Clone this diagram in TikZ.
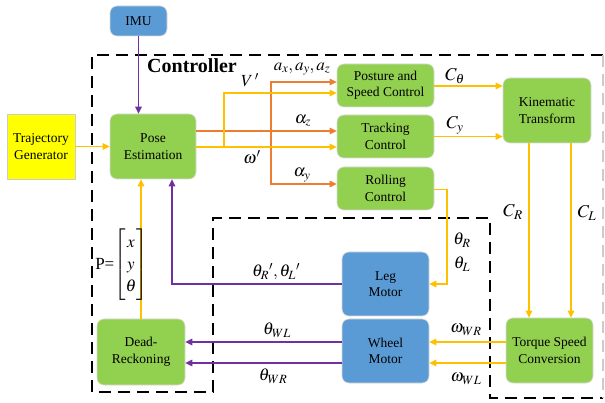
\documentclass[tikz,border=0pt]{standalone}
\usepackage{amsmath}
\usepackage{mathptmx}
\usepackage{fontspec}
\setmainfont{Liberation Serif}
\usetikzlibrary{arrows.meta,calc}
\definecolor{cyel}{HTML}{FFC000}
\definecolor{corg}{HTML}{ED7D31}
\definecolor{cpur}{HTML}{7030A0}
\definecolor{cgrn}{HTML}{92D050}
\definecolor{cblu}{HTML}{5B9BD5}
\definecolor{cybox}{HTML}{FFFF00}
\tikzset{
  box/.style={rounded corners=7pt, draw=black!15, line width=0.6pt, align=center,
    font=\fontsize{13.5}{16.5}\selectfont, inner sep=0pt},
  gbox/.style={box, fill=cgrn},
  bbox/.style={box, fill=cblu},
  tip/.style={-{Triangle[length=7pt,width=6.5pt]}},
  yarr/.style={draw=cyel, line width=1.4pt, tip},
  oarr/.style={draw=corg, line width=1.4pt, tip},
  parr/.style={draw=cpur, line width=1.4pt, tip},
  lbl/.style={font=\fontsize{17}{20}\selectfont, inner sep=0pt},
  clbl/.style={font=\fontsize{18}{21}\selectfont, inner sep=0pt},
  dashbox/.style={draw=black, line width=1.8pt, dash pattern=on 12pt off 7pt},
}
\begin{document}
\begin{tikzpicture}[x=1pt,y=-1pt]
\useasboundingbox (0,0) rectangle (605,403);
% dashed controller outline
\draw[dashbox] (603,55) -- (92,55) -- (92,392) -- (213,392) -- (213,218) -- (490,218) -- (490,398) -- (603,398);
\draw[draw=black!20, line width=1.8pt, dash pattern=on 12pt off 7pt] (603,55) -- (603,398);
\node[anchor=base west, inner sep=0pt, font=\fontsize{20}{24}\selectfont\bfseries] (ctl) at (147,73) {Controller};

% nodes
\node[bbox, minimum width=57pt, minimum height=30pt] (imu) at (138.5,21) {IMU};
\node[box, rounded corners=0pt, fill=cybox, draw=black!20, minimum width=68pt, minimum height=65pt] (traj) at (41,146.5) {Trajectory\\Generator};
\node[gbox, minimum width=86pt, minimum height=65pt] (pose) at (153,146.5) {Pose\\Estimation};
\node[gbox, minimum width=97pt, minimum height=43pt] (posture) at (385.5,85.5) {Posture and\\Speed Control};
\node[gbox, minimum width=97pt, minimum height=43pt] (tracking) at (385.5,136.5) {Tracking\\Control};
\node[gbox, minimum width=97pt, minimum height=43pt] (rolling) at (385.5,188.5) {Rolling\\Control};
\node[gbox, minimum width=88pt, minimum height=65pt] (kin) at (547,110.5) {Kinematic\\Transform};
\node[bbox, minimum width=87pt, minimum height=64pt] (leg) at (385.5,284) {Leg\\Motor};
\node[bbox, minimum width=87pt, minimum height=64pt] (wheel) at (385.5,351) {Wheel\\Motor};
\node[gbox, minimum width=87pt, minimum height=65pt] (torque) at (549.5,350.5) {Torque Speed\\Conversion};
\node[gbox, minimum width=88pt, minimum height=66pt] (dead) at (141,352) {Dead-\\Reckoning};

% helper coordinates
\coordinate (ob) at (271,131);
\coordinate (yb) at (224,147);
\coordinate (crx) at (529,0);
\coordinate (clx) at (571,0);
\coordinate (rx) at (447,0);
\coordinate (px) at (172,0);
\coordinate (w1) at (0,342);
\coordinate (w2) at (0,363);

% connectors
\draw[parr] (imu.south) -- (imu.south |- pose.north);
\draw[yarr] (traj.east) -- (pose.west);
\draw[oarr] (pose.east |- ob) -- (tracking.west |- ob);
\draw[oarr] (ob) |- ($(posture.west)+(0,-3.5)$);
\draw[oarr] (ob) |- ($(rolling.west)+(0,-4.5)$);
\draw[yarr] (pose.east |- yb) -- (tracking.west |- yb);
\draw[yarr] (yb) |- ($(posture.west)+(0,7.5)$);
\draw[yarr] ($(posture.east)+(0,0.5)$) -- ($(posture.east -| kin.west)+(0,0.5)$);
\draw[yarr] (tracking.east) -- (tracking.east -| kin.west);
\draw[yarr] (kin.south -| crx) -- (torque.north -| crx);
\draw[yarr] (kin.south -| clx) -- (torque.north -| clx);
\draw[yarr] ($(rolling.east)+(0,1)$) -- ($(rolling.east -| rx)+(0,1)$) |- (leg.east);
\draw[parr] (leg.west) -| (px |- pose.south);
\draw[yarr] (dead.north) -- (dead.north |- pose.south);
\draw[yarr] (torque.west |- w1) -- (wheel.east |- w1);
\draw[yarr] (torque.west |- w2) -- (wheel.east |- w2);
\draw[parr] (wheel.west |- w1) -- (dead.east |- w1);
\draw[parr] (wheel.west |- w2) -- (dead.east |- w2);

% labels
\node[lbl] (lV) at (250,80) {$V\,'$};
\node[lbl] (la) at (302,69) {$a_x,a_y,a_z$};
\node[lbl] (laz) at (303,121) {$\alpha_z$};
\node[lbl] (lw) at (252,157) {$\omega'$};
\node[lbl] (lay) at (302,175) {$\alpha_y$};
\node[clbl] (lct) at (455,76) {$C_\theta$};
\node[clbl] (lcy) at (455,125) {$C_y$};
\node[clbl] (lcr) at (513,212) {$C_R$};
\node[clbl] (lcl) at (587,213) {$C_L$};
\node[lbl] (ltr) at (462,240) {$\theta_R$};
\node[lbl] (ltl) at (462,264) {$\theta_L$};
\node[lbl] (ltrl) at (276,272) {$\theta_R{}',\theta_L{}'$};
\node[lbl] (ltwl) at (277,330) {$\theta_{WL}$};
\node[lbl] (ltwr) at (273,376) {$\theta_{WR}$};
\node[lbl] (lowr) at (466,330) {$\omega_{WR}$};
\node[lbl] (lowl) at (466,379) {$\omega_{WL}$};
\node[inner sep=0pt, font=\fontsize{17}{20}\selectfont] (lp) at (121.5,265)
  {P{=}$\renewcommand{\arraystretch}{1.12}\begin{bmatrix}x\\y\\\theta\end{bmatrix}$};
\end{tikzpicture}
\end{document}
